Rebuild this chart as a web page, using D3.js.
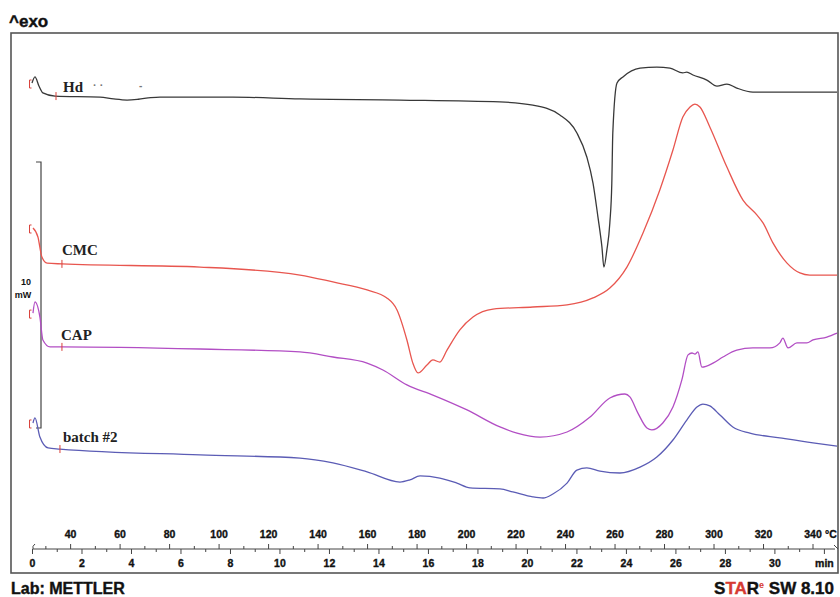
<!DOCTYPE html>
<html>
<head>
<meta charset="utf-8">
<script src="https://cdn.jsdelivr.net/npm/d3@7"></script>
<style>
  html, body { margin: 0; padding: 0; background: #fff; }
  svg { display: block; }
</style>
</head>
<body>
<svg id="chart" width="840" height="597"></svg>
<script>
// curves: [time (min), heat flow (mW, arbitrary offset)]
const hd = [
  [0, 18.42], [0.12, 18.65], [0.28, 18.31], [0.44, 18.05], [0.93, 17.93], [2.75, 17.89],
  [3.3, 17.82], [3.84, 17.78], [4.3, 17.81], [4.8, 17.87], [5.17, 17.89], [8.12, 17.89], [10.83, 17.82], [14.87, 17.78],
  [18.91, 17.71], [20.24, 17.59], [21.33, 17.22], [22.02, 16.54], [22.42, 15.64], [22.67, 14.66],
  [22.87, 13.38], [23.03, 12.26], [23.11, 11.50], [23.23, 12.14], [23.35, 13.16], [23.43, 14.66],
  [23.47, 16.54], [23.64, 18.42], [23.88, 18.65], [24.57, 18.98], [25.25, 19.02], [25.78, 18.98],
  [26.30, 18.80], [26.46, 18.83], [26.71, 18.72], [27.27, 18.53], [27.68, 18.30], [28.08, 18.38],
  [28.48, 18.23], [29.13, 18.08], [32.53, 18.08]
];
const cmc = [
  [0.04, 12.97], [0.24, 12.63], [0.40, 11.88], [0.61, 11.65], [1.21, 11.62], [6.79, 11.50],
  [10.83, 11.20], [12.16, 10.94], [13.54, 10.64], [14.34, 10.34], [14.75, 9.89], [15.15, 8.76],
  [15.39, 7.89], [15.60, 7.52], [15.96, 7.82], [16.20, 8.01], [16.48, 7.93], [16.77, 8.38],
  [17.29, 9.14], [17.82, 9.62], [18.63, 9.92], [20.24, 10.00], [21.62, 10.08], [22.67, 10.34],
  [23.35, 10.71], [24.04, 11.50], [24.69, 12.78], [25.37, 14.40], [25.90, 15.90], [26.30, 17.14],
  [26.59, 17.52], [26.79, 17.63], [26.99, 17.52], [27.39, 16.77], [28.08, 15.26], [28.73, 14.02],
  [29.29, 13.46], [29.54, 13.16], [29.94, 12.41], [30.51, 11.65], [31.03, 11.28], [31.43, 11.20],
  [32.53, 11.20]
];
const cap = [
  [0.04, 9.77], [0.12, 10.19], [0.32, 9.62], [0.44, 8.76], [0.73, 8.50], [1.21, 8.50],
  [6.79, 8.42], [10.83, 8.31], [12.16, 8.12], [13.54, 7.89], [14.18, 7.63], [15.15, 7.07],
  [16.20, 6.69], [17.58, 6.13], [18.91, 5.49], [19.60, 5.26], [20.53, 5.11], [21.62, 5.30],
  [22.55, 5.86], [23.35, 6.58], [23.96, 6.73], [24.16, 6.62], [24.48, 6.02], [24.85, 5.45],
  [25.05, 5.38], [25.49, 5.64], [25.90, 6.24], [26.26, 7.26], [26.51, 8.20], [26.67, 8.27],
  [26.79, 8.23], [26.91, 8.31], [27.07, 7.74], [27.52, 7.89], [27.92, 8.12], [28.48, 8.38],
  [29.13, 8.46], [29.82, 8.46], [30.22, 8.65], [30.34, 8.83], [30.55, 8.46], [30.91, 8.65],
  [31.31, 8.65], [31.56, 8.76], [32.12, 8.87], [32.53, 9.02]
];
const batch2 = [
  [0.04, 5.64], [0.12, 5.83], [0.32, 5.11], [0.65, 4.70], [1.13, 4.66], [6.79, 4.44],
  [10.83, 4.32], [12.16, 4.14], [13.54, 3.80], [14.87, 3.42], [15.27, 3.50], [15.68, 3.65],
  [16.48, 3.57], [17.17, 3.38], [17.70, 3.20], [18.91, 3.16], [19.43, 3.05], [20.24, 2.86],
  [20.65, 2.82], [21.05, 2.97], [21.62, 3.38], [22.02, 3.87], [22.42, 3.95], [22.95, 3.83],
  [23.76, 3.76], [24.57, 3.98], [25.25, 4.36], [25.90, 5.00], [26.46, 5.75], [26.87, 6.24],
  [27.11, 6.35], [27.39, 6.28], [27.80, 5.94], [28.32, 5.49], [29.01, 5.26], [30.22, 5.08],
  [31.56, 4.89], [32.53, 4.77]
];

const seriesNames = ["Hd", "CMC", "CAP", "batch #2"];
const seriesData = [hd, cmc, cap, batch2];
const seriesColors = ["#383838", "#e8564f", "#b24ec4", "#5b5cb5"];
const markTimes = [0.97, 1.21, 1.21, 1.13];   // red evaluation marks

const timeTicks = d3.range(0, 33, 2);          // 0..32 min
const timeMinor = d3.range(1, 33, 2);
const tempTicks = d3.range(40, 341, 20);       // °C
const tempMinor = d3.range(30, 341, 20);
const scaleBar = [5.45, 15.45];                // 10 mW

const svg = d3.select("#chart");

// frame of the plot
const frame = { left: 11, top: 33, right: 838, bottom: 573 };

const x = d3.scaleLinear().domain([0, 32.57]).range([32, 838]);
const xTemp = d3.scaleLinear().domain([24.6, 350.3]).range([32, 838]);
const y = d3.scaleLinear().domain([0, 20.3]).range([573, 33]);

svg.append("rect")
  .attr("x", frame.left).attr("y", frame.top)
  .attr("width", frame.right - frame.left).attr("height", frame.bottom - frame.top)
  .attr("fill", "none").attr("stroke", "#555").attr("stroke-width", 1.6);

// header / footer
const headFont = "Liberation Sans, Arial, sans-serif";
svg.append("text").attr("x", 9).attr("y", 27)
  .attr("font-family", headFont).attr("font-weight", "bold")
  .attr("font-size", 17).attr("fill", "#111")
  .attr("stroke", "#111").attr("stroke-width", 0.4).text("^exo");

svg.append("text").attr("x", 11).attr("y", 594)
  .attr("font-family", headFont).attr("font-weight", "bold")
  .attr("font-size", 16).attr("fill", "#111")
  .attr("stroke", "#111").attr("stroke-width", 0.4).text("Lab: METTLER");

const star = svg.append("text").attr("x", 834).attr("y", 594).attr("text-anchor", "end")
  .attr("font-family", headFont).attr("font-weight", "bold")
  .attr("font-size", 17).attr("fill", "#111")
  .attr("stroke-width", 0.4);
star.append("tspan").attr("stroke", "#111").text("S");
star.append("tspan").attr("fill", "#d63a32").attr("stroke", "#d63a32").text("TA");
star.append("tspan").attr("stroke", "#111").text("R");
star.append("tspan").attr("fill", "#d63a32").attr("font-size", 9).attr("dy", -6).text("e");
star.append("tspan").attr("dy", 6).attr("stroke", "#111").text(" SW 8.10");

// scale bar (10 mW)
svg.append("path")
  .attr("d", `M36,${y(scaleBar[1])}H41V${y(scaleBar[0])}H36`)
  .attr("fill", "none").attr("stroke", "#444").attr("stroke-width", 1.2);
const smallFont = "Liberation Sans Narrow, Liberation Sans, sans-serif";
svg.append("text").attr("x", 31).attr("y", 285).attr("text-anchor", "end")
  .attr("font-family", smallFont).attr("font-weight", "bold")
  .attr("font-size", 9).attr("fill", "#111").text("10");
svg.append("text").attr("x", 23).attr("y", 298).attr("text-anchor", "middle")
  .attr("font-family", smallFont).attr("font-weight", "bold")
  .attr("font-size", 9).attr("fill", "#111").text("mW");

// curves
const line = d3.line().x(d => x(d[0])).y(d => y(d[1])).curve(d3.curveMonotoneX);
const bis = d3.bisector(d => d[0]).left;
const curves = svg.append("g");
seriesData.forEach((data, i) => {
  curves.append("path").datum(data)
    .attr("d", line)
    .attr("fill", "none")
    .attr("stroke", seriesColors[i])
    .attr("stroke-width", 1.3);

  // red start bracket
  const by = y(data[0][1]) + 1;
  const bx = x(-0.1);
  curves.append("path")
    .attr("d", `M${bx + 2},${by - 4}H${bx}V${by + 4}H${bx + 2}`)
    .attr("fill", "none").attr("stroke", "#d9403a").attr("stroke-width", 1);

  // red evaluation tick
  const t = markTimes[i];
  const k = bis(data, t);
  const a = data[k - 1], b = data[k];
  const v = a[1] + (b[1] - a[1]) * (t - a[0]) / (b[0] - a[0]);
  curves.append("line")
    .attr("x1", x(t)).attr("x2", x(t))
    .attr("y1", y(v) - 4).attr("y2", y(v) + 4)
    .attr("stroke", "#d9403a").attr("stroke-width", 1);
});

// curve labels
const labelPos = [[63, 92], [62, 255], [61, 340], [63, 442]];
seriesNames.forEach((name, i) => {
  svg.append("text")
    .attr("x", labelPos[i][0]).attr("y", labelPos[i][1])
    .attr("font-family", "Liberation Serif, Times New Roman, serif")
    .attr("font-weight", "bold").attr("font-size", 15).attr("fill", "#222")
    .text(name);
});
svg.append("text").attr("x", 93).attr("y", 89)
  .attr("font-family", headFont).attr("font-size", 11).attr("font-weight", "bold").attr("fill", "#777")
  .text("·  ·");
svg.append("text").attr("x", 139).attr("y", 89)
  .attr("font-family", headFont).attr("font-size", 10).attr("font-weight", "bold").attr("fill", "#777")
  .text("-");

// x axes (temperature above, time below) on a common baseline
const axisY = 549;

function styleAxis(g) {
  g.select(".domain").remove();
  g.selectAll("line").attr("stroke", "#444");
  g.selectAll("text").attr("font-family", smallFont).attr("font-weight", "bold")
    .attr("font-size", 10.5).attr("fill", "#111")
    .attr("stroke", "#111").attr("stroke-width", 0.35);
}

svg.append("line").attr("x1", 33).attr("x2", 835).attr("y1", axisY).attr("y2", axisY)
  .attr("stroke", "#444").attr("stroke-width", 1);
svg.append("path").attr("d", `M35,${axisY - 5}Q32,${axisY - 3} 33,${axisY}`)
  .attr("fill", "none").attr("stroke", "#444");
svg.append("path").attr("d", `M834,${axisY - 4}L838,${axisY}`)
  .attr("fill", "none").attr("stroke", "#444");

svg.append("g").attr("transform", `translate(0,${axisY})`)
  .call(d3.axisTop(xTemp).tickValues(tempTicks).tickSize(5).tickPadding(6).tickFormat(d3.format("d")))
  .call(styleAxis);
svg.append("g").attr("transform", `translate(0,${axisY})`)
  .call(d3.axisTop(xTemp).tickValues(tempMinor).tickSize(3).tickFormat(""))
  .call(styleAxis);

svg.append("g").attr("transform", `translate(0,${axisY})`)
  .call(d3.axisBottom(x).tickValues(timeTicks).tickSize(5).tickPadding(6)
    .tickFormat(d => d === 32 ? "min" : d))
  .call(styleAxis);
svg.append("g").attr("transform", `translate(0,${axisY})`)
  .call(d3.axisBottom(x).tickValues(timeMinor).tickSize(3).tickFormat(""))
  .call(styleAxis);

svg.append("text").attr("x", 825).attr("y", 538)
  .attr("font-family", smallFont).attr("font-weight", "bold")
  .attr("font-size", 10.5).attr("fill", "#111")
  .attr("stroke", "#111").attr("stroke-width", 0.35).text("°C");
</script>
</body>
</html>
